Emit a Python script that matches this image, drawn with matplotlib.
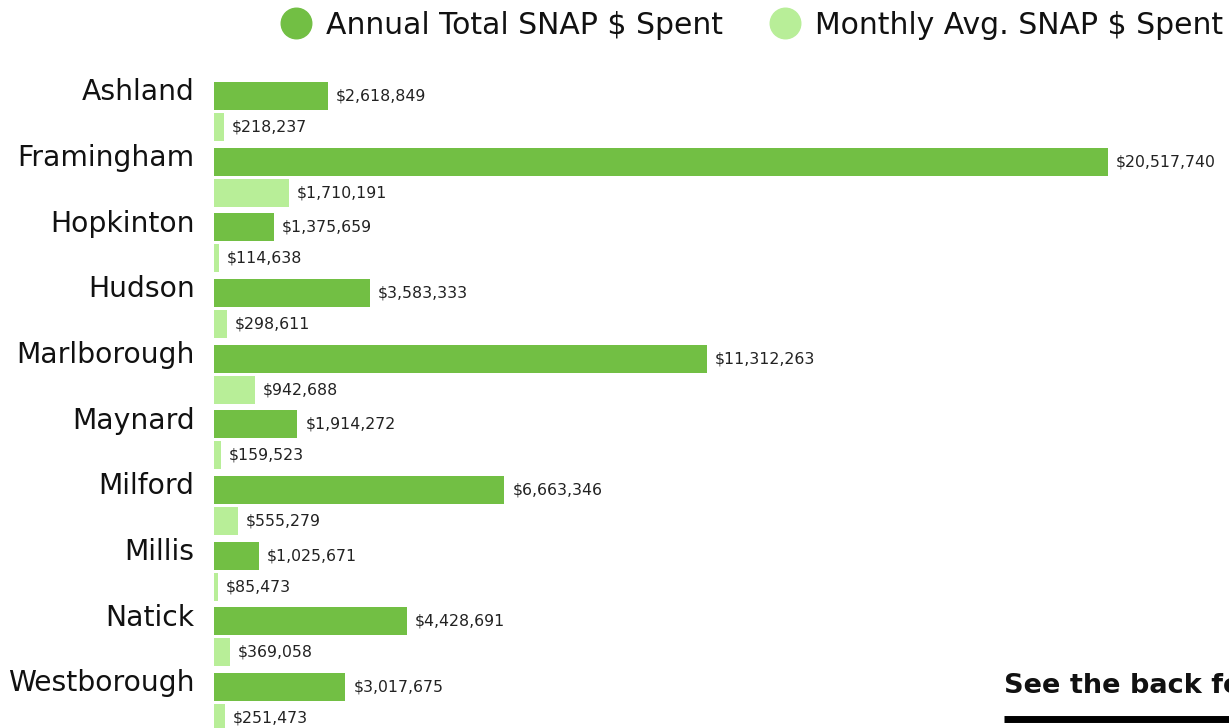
import matplotlib
matplotlib.use("Agg")
import matplotlib.pyplot as plt
from matplotlib.lines import Line2D
import numpy as np

towns = ["Ashland", "Framingham", "Hopkinton", "Hudson", "Marlborough",
         "Maynard", "Milford", "Millis", "Natick", "Westborough"]
annual = [2618849, 20517740, 1375659, 3583333, 11312263,
          1914272, 6663346, 1025671, 4428691, 3017675]
monthly = [218237, 1710191, 114638, 298611, 942688,
           159523, 555279, 85473, 369058, 251473]
series_names = ["Annual Total SNAP $ Spent", "Monthly Avg. SNAP $ Spent"]
colors = ["#72BF44", "#B8EE98"]
footer_text = "See the back for more"

plt.rcParams['font.family'] = ['DejaVu Sans']

W, H = 1229, 728
fig = plt.figure(figsize=(W / 100, H / 100), dpi=100)
ax_top_px = 60
ax = fig.add_axes([214 / W, 0, 1 - 214 / W, (H - ax_top_px) / H])

y = np.arange(len(towns))
off = 0.236
h = 0.43
b1 = ax.barh(y - off, annual, height=h, color=colors[0], linewidth=0)
b2 = ax.barh(y + off, monthly, height=h, color=colors[1], linewidth=0)

xmax = annual[1] * 1015 / 894
ax.set_xlim(0, xmax)
ax.set_ylim(9.388, -0.784)
pad = xmax * 8 / 1015
for bars, vals in ((b1, annual), (b2, monthly)):
    for rect, v in zip(bars, vals):
        ax.text(v + pad, rect.get_y() + rect.get_height() / 2, f"${v:,.0f}",
                va="center", ha="left", fontsize=11.3, color="#222222")

ax.set_yticks(y - off - 0.1)
ax.set_yticklabels(towns, fontsize=20.3, color="#111111")
ax.tick_params(axis="y", length=0, pad=14)
ax.set_xticks([])
for s in ax.spines.values():
    s.set_visible(False)

handles = [Line2D([], [], marker="o", linestyle="", markersize=22,
                  markerfacecolor=c, markeredgecolor=c) for c in colors]
fig.legend(handles, series_names, loc="center left", bbox_to_anchor=(266 / W, 1 - 25 / H),
           ncol=2, frameon=False, fontsize=21.5, handletextpad=0.4,
           columnspacing=1.5, borderaxespad=0, handlelength=1.2,
           labelcolor="#111111")

fig.text(1004 / W, 1 - 686 / H, footer_text, fontsize=19.5, fontweight="bold",
         va="center", ha="left", color="#111111")
fig.add_artist(Line2D([1004 / W, 1.05], [1 - 719 / H, 1 - 719 / H],
                      color="black", linewidth=5, solid_capstyle="butt",
                      transform=fig.transFigure))

fig.savefig("out.png", dpi=100)
